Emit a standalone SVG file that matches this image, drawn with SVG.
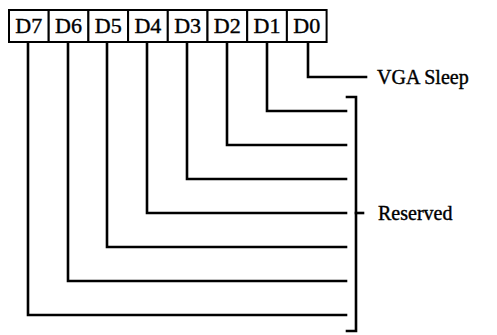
<svg xmlns="http://www.w3.org/2000/svg" width="497" height="335" viewBox="0 0 497 335">
<style>
.cell{fill:#fff;stroke:#000;stroke-width:2}
.bit{font-family:'Liberation Serif','DejaVu Serif',serif;font-size:22px;fill:#000;stroke:#000;stroke-width:0.4;text-anchor:middle}
.lbl{font-family:'Liberation Serif','DejaVu Serif',serif;font-size:20px;fill:#000;stroke:#000;stroke-width:0.4}
.w{fill:none;stroke:#000;stroke-width:2.6;stroke-linecap:square}
</style>
<rect width="497" height="335" fill="#fff"/>
<g id="register">
<g id="D7"><rect class="cell" x="9" y="10" width="39.7" height="32"/><text class="bit" x="28.8" y="33">D7</text></g>
<g id="D6"><rect class="cell" x="48.7" y="10" width="39.7" height="32"/><text class="bit" x="68.5" y="33">D6</text></g>
<g id="D5"><rect class="cell" x="88.4" y="10" width="39.7" height="32"/><text class="bit" x="108.2" y="33">D5</text></g>
<g id="D4"><rect class="cell" x="128.1" y="10" width="39.7" height="32"/><text class="bit" x="147.9" y="33">D4</text></g>
<g id="D3"><rect class="cell" x="167.8" y="10" width="39.7" height="32"/><text class="bit" x="187.6" y="33">D3</text></g>
<g id="D2"><rect class="cell" x="207.5" y="10" width="39.7" height="32"/><text class="bit" x="227.3" y="33">D2</text></g>
<g id="D1"><rect class="cell" x="247.2" y="10" width="39.7" height="32"/><text class="bit" x="267" y="33">D1</text></g>
<g id="D0"><rect class="cell" x="286.9" y="10" width="39.7" height="32"/><text class="bit" x="306.7" y="33">D0</text></g>
</g>
<g id="connectors">
<polyline class="w" points="308,43 308,77 366,77"/>
<polyline class="w" points="267,43 267,111 346,111"/>
<polyline class="w" points="227,43 227,145 346,145"/>
<polyline class="w" points="187,43 187,179 346,179"/>
<polyline class="w" points="147,43 147,213 346,213"/>
<polyline class="w" points="107,43 107,247 346,247"/>
<polyline class="w" points="68,43 68,281 346,281"/>
<polyline class="w" points="28,43 28,315 346,315"/>
<polyline class="w" points="347,97 356,97 356,331 347,331"/>
<line class="w" x1="356" y1="213" x2="363" y2="213"/>
</g>
<g id="labels">
<text class="lbl" x="377" y="84">VGA Sleep</text>
<text class="lbl" x="378" y="220">Reserved</text>
</g>
</svg>
